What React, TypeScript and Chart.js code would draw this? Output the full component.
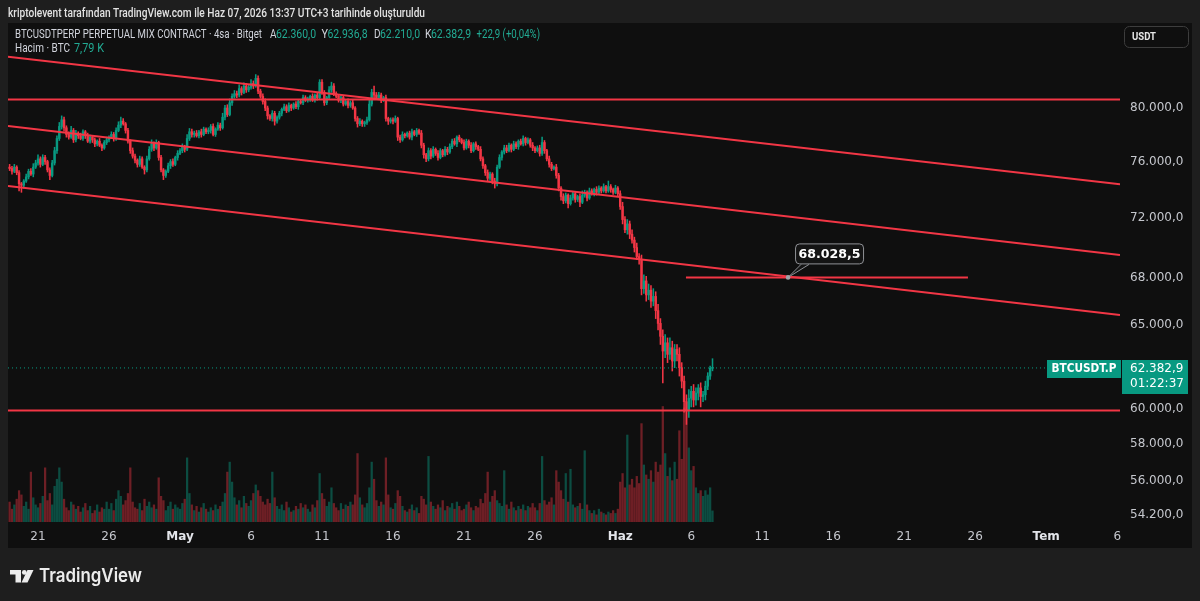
import React, { useEffect, useRef } from 'react';
import { Chart, registerables } from 'chart.js';

Chart.register(...registerables);

// ---------------- DATA ----------------
// 4h candles, first candle = Apr 19 00:00 (day -2, days counted from Apr 21)
const FIRST_CANDLE_DAY = -2;
const CANDLES_PER_DAY = 6;
const FIRST_OPEN = 75.6; // thousand USDT

// closes (thousand USDT), one row per day
const CLOSES = [
  75.5, 75.3, 75.6, 75.2, 74.4, 74.3,
  74.6, 74.9, 75.3, 75.1, 75.6, 75.9,
  76.2, 75.8, 76.3, 76.0, 75.4, 75.0,
  75.9, 76.8, 77.7, 78.6, 79.1, 78.5,
  78.0, 77.8, 78.3, 77.6, 78.1, 77.9,
  77.7, 78.2, 77.9, 77.5, 77.8, 77.6,
  77.3, 77.5, 77.2, 77.0, 77.4, 77.6,
  77.8, 78.0, 77.7, 78.3, 78.7, 79.0,
  78.8, 78.3, 77.5, 76.8, 76.4, 76.1,
  75.8, 76.2, 75.6, 75.4, 76.2, 76.9,
  77.3, 77.0, 77.4, 76.3, 75.4, 75.0,
  75.3, 75.7, 76.0, 75.8, 76.3, 76.6,
  76.8, 77.1, 76.9, 77.7, 78.2, 78.0,
  78.1, 77.9, 78.2, 78.0, 78.4, 78.2,
  78.3, 78.6, 78.0, 78.4, 78.7, 78.5,
  79.3, 80.0, 79.5, 80.4, 80.9, 81.1,
  81.0, 81.5, 81.2, 81.7, 81.4, 81.6,
  81.9, 81.7, 82.3, 81.3, 80.9, 80.5,
  80.0, 79.4, 79.2, 79.6, 79.0, 79.3,
  79.6, 79.9, 80.1, 79.8, 80.2, 80.0,
  80.3, 80.1, 80.5, 80.4, 80.8, 80.6,
  80.7, 80.9, 80.6, 81.0, 80.8, 82.0,
  81.2, 80.4, 80.8, 81.4, 81.7, 81.1,
  80.9, 80.6, 80.8, 80.3, 80.5, 80.2,
  80.4, 80.0, 79.2, 78.8, 79.0, 78.8,
  78.9, 79.1, 80.3, 81.2, 81.0, 80.8,
  81.0, 80.6, 80.8, 79.2, 79.0, 79.1,
  79.0, 79.2, 77.8, 77.6, 78.0, 77.9,
  78.1, 77.8, 78.2, 78.0, 78.3, 78.1,
  77.2, 76.5, 76.2, 76.8, 76.4, 76.9,
  76.6, 76.3, 76.8, 76.5, 76.9, 76.7,
  77.1, 77.5, 77.3, 77.8, 77.6, 77.4,
  77.0, 77.5, 77.2, 76.8, 77.3, 77.1,
  76.9, 76.2, 75.7, 75.2, 74.8, 75.1,
  74.6, 74.4, 75.6, 76.3, 76.7, 77.0,
  76.8, 77.2, 76.9, 77.3, 77.1, 77.5,
  77.3, 77.7, 77.4, 77.6, 77.2, 77.0,
  76.8, 77.0, 76.6, 77.4, 76.8, 76.2,
  75.8, 75.5, 75.6, 75.0, 74.1, 73.5,
  73.2, 73.6, 73.0, 73.4, 73.7, 73.3,
  73.5, 73.1, 73.6, 73.8, 73.4, 73.9,
  73.7, 74.0, 73.8, 74.1, 73.9, 74.2,
  73.9, 74.2, 74.0, 73.8, 74.1, 73.7,
  72.8, 71.9, 71.2, 71.6, 70.9, 70.5,
  70.0, 69.4, 69.2, 67.3, 67.8, 66.9,
  67.2, 66.5, 66.8, 65.9, 65.1, 64.3,
  63.4, 63.9, 63.2, 63.6, 62.8, 63.5,
  63.2, 62.4, 61.6, 60.4, 59.9, 60.6,
  61.0, 60.5, 60.9, 61.2, 60.7, 60.8,
  61.3, 61.9, 62.36, 62.3829,
];

// upper wick length above the body (thousand USDT)
const UPPER_WICKS = [
  .2, .15, .2, .1, .15, .1,
  .1, .2, .15, .2, .25, .2,
  .3, .15, .2, .15, .1, .15,
  .2, .25, .2, .3, .3, .2,
  .15, .2, .3, .15, .2, .1,
  .2, .15, .1, .2, .15, .1,
  .15, .1, .2, .1, .15, .2,
  .1, .2, .15, .2, .25, .3,
  .2, .1, .15, .1, .2, .15,
  .1, .2, .15, .1, .2, .2,
  .3, .15, .2, .1, .15, .1,
  .1, .2, .15, .2, .1, .2,
  .15, .2, .1, .3, .25, .2,
  .15, .2, .1, .2, .15, .1,
  .2, .15, .2, .1, .2, .15,
  .3, .2, .25, .3, .2, .25,
  .2, .3, .15, .25, .2, .15,
  .3, .2, .3, .2, .15, .2,
  .2, .15, .1, .2, .15, .1,
  .15, .1, .2, .15, .2, .1,
  .1, .2, .15, .1, .2, .15,
  .15, .1, .2, .1, .15, .2,
  .2, .15, .1, .25, .3, .2,
  .15, .1, .2, .15, .1, .2,
  .15, .2, .1, .15, .2, .1,
  .1, .2, .3, .25, .5, .2,
  .2, .15, .1, .2, .1, .15,
  .15, .2, .1, .15, .2, .1,
  .1, .15, .2, .1, .15, .1,
  .2, .15, .1, .2, .15, .2,
  .1, .2, .15, .1, .2, .15,
  .2, .15, .2, .1, .15, .1,
  .2, .15, .1, .2, .1, .15,
  .1, .2, .15, .1, .2, .15,
  .1, .2, .15, .2, .1, .2,
  .2, .15, .1, .2, .15, .1,
  .15, .2, .1, .15, .1, .2,
  .1, .15, .2, .4, .15, .1,
  .2, .15, .1, .2, .15, .1,
  .2, .15, .1, .2, .15, .1,
  .1, .2, .3, .15, .1, .2,
  .15, .1, .2, .15, .1, .2,
  .1, .4, .15, .1, .2, .1,
  .2, .3, .2, .3, .2, .3,
  .2, .3, .2, .3, .4, .3,
  .4, .3, .5, .3, .4, .3,
  .4, .5, .3, .6, .4, .3,
  .3, .4, .3, .3, .4, .5,
  .3, .4, .3, .2, .3, .2,
  .3, .2, .14, .5539,
];

// lower wick length below the body (thousand USDT)
const LOWER_WICKS = [
  .15, .2, .1, .15, .5, .5,
  .2, .1, .15, .1, .2, .1,
  .15, .2, .1, .2, .15, .3,
  .1, .15, .2, .15, .2, .25,
  .2, .15, .1, .2, .15, .2,
  .1, .15, .2, .1, .15, .2,
  .2, .15, .1, .2, .1, .15,
  .15, .1, .2, .15, .1, .2,
  .1, .2, .15, .2, .15, .2,
  .2, .15, .1, .3, .15, .1,
  .15, .2, .1, .2, .15, .3,
  .15, .1, .2, .15, .1, .2,
  .1, .15, .2, .1, .15, .2,
  .2, .1, .15, .2, .1, .15,
  .15, .2, .1, .15, .1, .2,
  .1, .2, .15, .1, .2, .15,
  .2, .15, .2, .1, .2, .15,
  .15, .2, .1, .2, .15, .2,
  .2, .25, .15, .2, .3, .15,
  .15, .2, .1, .15, .1, .2,
  .1, .15, .2, .1, .15, .1,
  .15, .2, .1, .15, .2, .1,
  .15, .2, .15, .1, .2, .15,
  .1, .15, .2, .15, .1, .2,
  .15, .1, .2, .25, .15, .2,
  .2, .15, .1, .15, .2, .1,
  .15, .2, .1, .2, .25, .15,
  .2, .1, .25, .2, .1, .15,
  .1, .15, .2, .1, .15, .1,
  .2, .25, .2, .15, .2, .1,
  .15, .2, .1, .15, .1, .2,
  .1, .15, .1, .2, .15, .1,
  .15, .1, .2, .15, .1, .2,
  .1, .15, .2, .2, .25, .15,
  .2, .3, .15, .1, .2, .15,
  .15, .1, .2, .1, .15, .2,
  .1, .15, .2, .1, .15, .2,
  .15, .1, .2, .15, .2, .15,
  .2, .15, .1, .2, .2, .25,
  .2, .15, .3, .1, .15, .2,
  .15, .3, .1, .15, .2, .1,
  .1, .15, .2, .1, .15, .1,
  .15, .1, .2, .15, .1, .2,
  .2, .3, .2, .3, .3, .2,
  .3, .2, .3, .4, .3, .4,
  .3, .4, .3, .5, .4, .5,
  1.9, .4, .5, .3, .6, .4,
  .4, .5, .4, .6, .8, .4,
  .5, .4, .3, .4, .6, .3,
  .3, .2, .2, .15,
];

// volume per candle (thousand BTC)
const VOLUMES = [
  14, 9, 12, 16, 22, 19,
  11, 14, 9, 35, 17, 12,
  10, 13, 18, 38, 15, 20,
  12, 25, 30, 38, 28, 16,
  10, 8, 14, 12, 9, 11,
  7, 10, 13, 8, 11, 6,
  8, 12, 7, 10, 9, 14,
  9, 13, 8, 16, 22, 18,
  12, 15, 20, 38, 14, 10,
  9, 13, 8, 16, 11, 14,
  10, 12, 9, 31, 18, 15,
  8, 11, 14, 9, 12, 10,
  9, 13, 16, 45, 20, 12,
  8, 11, 7, 10, 13, 9,
  7, 10, 8, 12, 9, 11,
  14, 20, 35, 42, 28, 17,
  12, 15, 10, 18, 13, 11,
  15, 20, 26, 22, 18, 14,
  12, 16, 13, 35, 17, 11,
  9, 12, 8, 14, 10, 7,
  8, 11, 9, 13, 10, 12,
  9, 7, 12, 10, 15, 34,
  20, 16, 11, 14, 24, 13,
  10, 8, 13, 9, 12, 11,
  14, 12, 19, 48, 17, 12,
  10, 13, 24, 42, 30, 15,
  11, 14, 12, 45, 19, 10,
  9, 13, 22, 18, 11, 8,
  7, 9, 12, 8, 10, 6,
  18, 16, 12, 46, 14, 11,
  9, 12, 10, 15, 8, 11,
  10, 13, 9, 14, 11, 8,
  9, 12, 14, 10, 8, 11,
  10, 16, 13, 20, 35, 14,
  18, 22, 15, 13, 11, 36,
  12, 9, 14, 10, 8, 11,
  9, 12, 8, 11, 10, 13,
  10, 8, 13, 46, 15, 12,
  14, 17, 12, 36, 28, 22,
  16, 34, 14, 37, 12, 10,
  11, 13, 9, 50, 12, 8,
  6, 8, 5, 9, 7, 6,
  5, 7, 6, 8, 6, 9,
  28, 34, 24, 61, 26, 30,
  24, 32, 27, 69, 40, 33,
  30, 36, 28, 42, 35, 40,
  81, 48, 32, 38, 29, 42,
  30, 64, 44, 80, 78, 52,
  36, 39, 24, 20, 22, 18,
  22, 19, 24, 7.79,
];

// time axis (days from Apr 21)
const X_TICK_DAYS = [0, 5, 10, 15, 20, 25, 30, 35, 41, 46, 51, 56, 61, 66, 71, 76];
const X_TICK_LABELS = ['21', '26', 'May', '6', '11', '16', '21', '26', 'Haz', '6', '11', '16', '21', '26', 'Tem', '6'];
const MONTH_LABELS = ['May', 'Haz', 'Tem'];
const X_MIN = -2.113;
const X_MAX = 76.197;

// price axis (thousand USDT, log)
const PRICE_TICKS = [54.2, 56, 58, 60, 65, 68, 72, 76, 80];
const Y_MIN = 53.832;
const Y_MAX = 86.779;
const VOL_AXIS_MAX = 350;

// drawings: descending channel lines [price at left edge, price at right edge]
const CHANNEL_LINES = [
  [84.026, 74.367],
  [78.634, 69.502],
  [74.246, 65.62],
];
const HORIZONTAL_LINES = [80.65, 59.9];
const NOTE_PRICE = 68.0285;
const NOTE_LINE_DAYS = [45.63, 65.49];
const NOTE_DAY = 52.82;

const HEADER_TEXT = 'kriptolevent tarafından TradingView.com ile Haz 07, 2026 13:37 UTC+3 tarihinde oluşturuldu';
const SYMBOL_TEXT = 'BTCUSDTPERP PERPETUAL MIX CONTRACT · 4sa · Bitget';
const VOLUME_LABEL = 'Hacim · BTC';
const TAG_SYMBOL = 'BTCUSDT.P';
const COUNTDOWN = '01:22:37';
const CURRENCY = 'USDT';

// ---------------- STYLE ----------------
const OUTER_BG = '#1e1e1e';
const PANE_BG = '#0f0f0f';
const UP = '#089981';
const DOWN = '#f23645';
const UP_TEXT = '#22ab94';
const VOL_UP = 'rgba(8,153,129,0.45)';
const VOL_DOWN = 'rgba(242,54,69,0.42)';
const DRAW_RED = '#f23645';
const AXIS_TEXT = '#c5c7cd';
const LEGEND_TEXT = '#d1d4dc';
const FONT = "'DejaVu Sans', sans-serif";
const UI_FONT = "Roboto, 'Noto Sans', sans-serif";

// ---------------- HELPERS ----------------
function fmtTR(v: number, d = 1): string {
  const neg = v < 0;
  const s = Math.abs(v).toFixed(d);
  const parts = s.split('.');
  const g = parts[0].replace(/\B(?=(\d{3})+(?!\d))/g, '.');
  return (neg ? '-' : '') + g + (parts[1] !== undefined ? ',' + parts[1] : '');
}

function txt(
  ctx: CanvasRenderingContext2D,
  s: string,
  x: number,
  y: number,
  font: string,
  color: string,
  align: CanvasTextAlign = 'left',
  maxW?: number
) {
  ctx.font = font;
  ctx.fillStyle = color;
  ctx.textAlign = align;
  ctx.textBaseline = 'middle';
  if (maxW && ctx.measureText(s).width > maxW) ctx.fillText(s, x, y, maxW);
  else ctx.fillText(s, x, y);
}

type Candle = { x: number; o: number; h: number; l: number; c: number };

const CANDLES: Candle[] = CLOSES.map((c, i) => {
  const o = i === 0 ? FIRST_OPEN : CLOSES[i - 1];
  return {
    x: FIRST_CANDLE_DAY + i / CANDLES_PER_DAY,
    o,
    c,
    h: Math.max(o, c) + UPPER_WICKS[i],
    l: Math.min(o, c) - LOWER_WICKS[i],
  };
});

const LAST = CANDLES[CANDLES.length - 1];
const LAST_VOL = VOLUMES[VOLUMES.length - 1];

export default function App() {
  const ref = useRef<HTMLCanvasElement>(null);

  useEffect(() => {
    const canvas = ref.current;
    if (!canvas) return;
    Chart.defaults.font.family = FONT;
    Chart.defaults.font.size = 12;

    const candleColors = CANDLES.map((k) => (k.c >= k.o ? UP : DOWN));
    const volColors = CANDLES.map((k) => (k.c >= k.o ? VOL_UP : VOL_DOWN));

    const lineDS = (pts: { x: number; y: number }[], color: string, width: number, dash: number[] = [], order = 1) => ({
      type: 'line' as const,
      data: pts,
      borderColor: color,
      borderWidth: width,
      borderDash: dash,
      pointRadius: 0,
      pointHoverRadius: 0,
      fill: false,
      tension: 0,
      xAxisID: 'x',
      yAxisID: 'y',
      order,
    });

    const datasets: any[] = [
      {
        type: 'bar',
        data: CANDLES.map((k, i) => ({ x: k.x, y: VOLUMES[i] })),
        backgroundColor: volColors,
        borderWidth: 0,
        barThickness: 1.6,
        barPercentage: 1,
        categoryPercentage: 1,
        grouped: false,
        xAxisID: 'x',
        yAxisID: 'yv',
        order: 10,
      },
      {
        type: 'bar',
        data: CANDLES.map((k) => ({ x: k.x, y: [k.l, k.h] })),
        backgroundColor: candleColors,
        borderWidth: 0,
        barThickness: 0.9,
        barPercentage: 1,
        categoryPercentage: 1,
        grouped: false,
        xAxisID: 'x',
        yAxisID: 'y',
        order: 6,
      },
      {
        type: 'bar',
        data: CANDLES.map((k) => ({ x: k.x, y: [Math.min(k.o, k.c), Math.max(k.o, k.c)] })),
        backgroundColor: candleColors,
        borderWidth: 0,
        barThickness: 1.8,
        barPercentage: 1,
        categoryPercentage: 1,
        minBarLength: 1,
        grouped: false,
        xAxisID: 'x',
        yAxisID: 'y',
        order: 5,
      },
      ...CHANNEL_LINES.map((p) =>
        lineDS(
          [
            { x: X_MIN, y: p[0] },
            { x: X_MAX, y: p[1] },
          ],
          DRAW_RED,
          2
        )
      ),
      ...HORIZONTAL_LINES.map((p) =>
        lineDS(
          [
            { x: X_MIN, y: p },
            { x: X_MAX, y: p },
          ],
          DRAW_RED,
          2
        )
      ),
      lineDS(
        [
          { x: NOTE_LINE_DAYS[0], y: NOTE_PRICE },
          { x: NOTE_LINE_DAYS[1], y: NOTE_PRICE },
        ],
        DRAW_RED,
        2
      ),
      lineDS(
        [
          { x: X_MIN, y: LAST.c },
          { x: X_MAX, y: LAST.c },
        ],
        UP,
        1,
        [1, 3],
        2
      ),
    ];

    const overlay = {
      id: 'tvOverlay',
      beforeDraw(chart: any) {
        const { ctx, chartArea: a } = chart;
        ctx.save();
        ctx.fillStyle = OUTER_BG;
        ctx.fillRect(0, 0, chart.width, chart.height);
        ctx.fillStyle = PANE_BG;
        ctx.fillRect(a.left, a.top, a.right - a.left + 72, a.bottom - a.top + 26);
        ctx.restore();
      },
      afterDraw(chart: any) {
        const { ctx, chartArea: a, scales } = chart;
        const xs = scales.x;
        const ys = scales.y;
        ctx.save();

        // header
        txt(ctx, HEADER_TEXT, 8, 13.5, `500 12px ${UI_FONT}`, '#e2e2e2', 'left', 417);

        // legend line 1
        const lf = `12px ${UI_FONT}`;
        txt(ctx, SYMBOL_TEXT, 15, 35, lf, LEGEND_TEXT, 'left', 247);
        const ohlc: [string, number, number][] = [
          ['A', LAST.o, 270],
          ['Y', LAST.h, 321.5],
          ['D', LAST.l, 374],
          ['K', LAST.c, 425],
        ];
        ohlc.forEach(([lab, v, x]) => {
          txt(ctx, lab, x, 35, lf, LEGEND_TEXT, 'left', 6.5);
          txt(ctx, fmtTR(v * 1000), x + 6, 35, lf, UP_TEXT, 'left', 40);
        });
        const ch = (LAST.c - LAST.o) * 1000;
        const pct = (ch / (LAST.o * 1000)) * 100;
        txt(
          ctx,
          `${ch >= 0 ? '+' : ''}${fmtTR(ch)} (${pct >= 0 ? '+' : ''}${fmtTR(pct, 2)}%)`,
          476.5,
          35,
          lf,
          UP_TEXT,
          'left',
          63.5
        );
        // legend line 2
        txt(ctx, VOLUME_LABEL, 15, 49, lf, LEGEND_TEXT, 'left', 55);
        txt(ctx, `${fmtTR(LAST_VOL, 2)} K`, 74, 49, lf, UP_TEXT, 'left', 30);

        // currency button
        ctx.beginPath();
        ctx.roundRect(a.right + 4.5, 26.5, 64, 21, 5);
        ctx.strokeStyle = '#3d3d3d';
        ctx.lineWidth = 1;
        ctx.stroke();
        txt(ctx, CURRENCY, a.right + 12, 37.5, `bold 11px ${UI_FONT}`, '#e6e6e6', 'left', 24);

        // price note
        const px = xs.getPixelForValue(NOTE_DAY);
        const py = ys.getPixelForValue(NOTE_PRICE);
        ctx.beginPath();
        ctx.moveTo(px + 13, py - 13);
        ctx.lineTo(px, py);
        ctx.lineTo(px + 21, py - 13);
        ctx.fillStyle = '#141414';
        ctx.fill();
        ctx.strokeStyle = '#8f9196';
        ctx.lineWidth = 1;
        ctx.stroke();
        ctx.beginPath();
        ctx.roundRect(px + 7.5, py - 33.5, 68, 20, 4);
        ctx.fillStyle = '#141414';
        ctx.fill();
        ctx.strokeStyle = '#8f9196';
        ctx.stroke();
        txt(ctx, fmtTR(NOTE_PRICE * 1000), px + 41.5, py - 23, `bold 13px ${FONT}`, '#ffffff', 'center', 62);
        ctx.beginPath();
        ctx.arc(px, py, 2.3, 0, Math.PI * 2);
        ctx.fillStyle = '#a0a3a8';
        ctx.fill();

        // last price tag
        const ly = Math.round(ys.getPixelForValue(LAST.c));
        ctx.fillStyle = UP;
        ctx.fillRect(a.right - 73, ly - 8, 74, 18);
        ctx.fillRect(a.right + 2, ly - 8, 66, 34);
        txt(ctx, TAG_SYMBOL, a.right - 36, ly + 1, `bold 12px ${FONT}`, '#ffffff', 'center', 65);
        txt(ctx, fmtTR(LAST.c * 1000), a.right + 10, ly + 1, `12px ${FONT}`, '#ffffff', 'left');
        txt(ctx, COUNTDOWN, a.right + 10, ly + 16, `12px ${FONT}`, '#ffffff', 'left');

        // TradingView logo
        const lx = 10;
        const ty = 570;
        ctx.fillStyle = '#ececec';
        ctx.fillRect(lx, ty, 11, 4.5);
        ctx.fillRect(lx + 5.5, ty, 5.5, 12.5);
        ctx.beginPath();
        ctx.arc(lx + 14.3, ty + 2.4, 2.4, 0, Math.PI * 2);
        ctx.fill();
        ctx.beginPath();
        ctx.moveTo(lx + 17.5, ty);
        ctx.lineTo(lx + 23.5, ty);
        ctx.lineTo(lx + 17.5, ty + 12.5);
        ctx.lineTo(lx + 11.5, ty + 12.5);
        ctx.closePath();
        ctx.fill();
        txt(ctx, 'TradingView', 39, 576, `600 19px Inter, ${UI_FONT}`, '#ececec', 'left', 103);

        ctx.restore();
      },
    };

    const chart = new Chart(canvas, {
      type: 'bar',
      data: { datasets },
      options: {
        responsive: false,
        maintainAspectRatio: false,
        animation: false,
        events: [],
        layout: { padding: { left: 8, right: 8, top: 23, bottom: 53 } },
        plugins: { legend: { display: false }, tooltip: { enabled: false } },
        scales: {
          x: {
            type: 'linear',
            min: X_MIN,
            max: X_MAX,
            bounds: 'data',
            offset: false,
            grid: { display: false, drawTicks: false },
            border: { display: false },
            ticks: {
              autoSkip: false,
              maxRotation: 0,
              padding: 8,
              callback: (_v: any, i: number) => X_TICK_LABELS[i],
              color: (c: any) => (MONTH_LABELS.includes(X_TICK_LABELS[c.index]) ? '#e3e5ea' : AXIS_TEXT),
              font: (c: any) => ({
                family: FONT,
                size: 12,
                weight: MONTH_LABELS.includes(X_TICK_LABELS[c.index]) ? 'bold' : 'normal',
              }),
            },
            afterBuildTicks: (s: any) => {
              s.ticks = X_TICK_DAYS.map((v) => ({ value: v }));
            },
            afterFit: (s: any) => {
              s.height = 26;
            },
          },
          y: {
            type: 'logarithmic',
            position: 'right',
            min: Y_MIN,
            max: Y_MAX,
            bounds: 'data',
            grid: { display: false, drawTicks: false },
            border: { display: false },
            ticks: {
              autoSkip: false,
              padding: 10,
              color: AXIS_TEXT,
              font: { family: FONT, size: 12 },
              callback: (v: any) => fmtTR(Number(v) * 1000),
            },
            afterBuildTicks: (s: any) => {
              s.ticks = PRICE_TICKS.map((v) => ({ value: v }));
            },
            afterFit: (s: any) => {
              s.width = 72;
            },
          },
          yv: {
            type: 'linear',
            display: false,
            min: 0,
            max: VOL_AXIS_MAX,
          },
        },
      } as any,
      plugins: [overlay],
    });

    return () => chart.destroy();
  }, []);

  return (
    <div style={{ position: 'fixed', left: 0, top: 0, width: 1200, height: 601, background: OUTER_BG }}>
      <canvas ref={ref} width={1200} height={601} style={{ display: 'block', width: 1200, height: 601 }} />
    </div>
  );
}
